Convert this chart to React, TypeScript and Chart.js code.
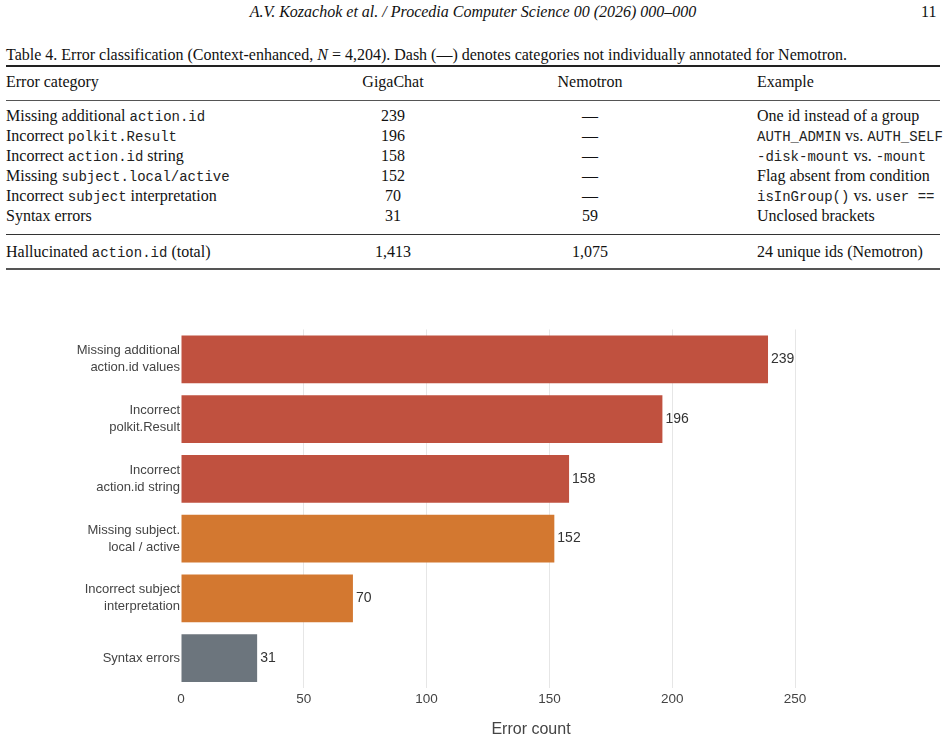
import React, { useEffect, useRef } from "react";
import { Chart, registerables } from "chart.js";

Chart.register(...registerables);

// ---------- chart data ----------
const categories: string[][] = [
  ["Missing additional", "action.id values"],
  ["Incorrect", "polkit.Result"],
  ["Incorrect", "action.id string"],
  ["Missing subject.", "local / active"],
  ["Incorrect subject", "interpretation"],
  ["Syntax errors"],
];
const errorCounts: number[] = [239, 196, 158, 152, 70, 31];
const barColors: string[] = ["#C0513F", "#C0513F", "#C0513F", "#D37830", "#D37830", "#6C757D"];
const xTickStep = 50;
const xMax = 285;
const xTitle = "Error count";

// ---------- table data ----------
type Cell = { t: string; mono?: boolean }[];
const tableCategory: Cell[] = [
  [{ t: "Missing additional " }, { t: "action.id", mono: true }],
  [{ t: "Incorrect " }, { t: "polkit.Result", mono: true }],
  [{ t: "Incorrect " }, { t: "action.id", mono: true }, { t: " string" }],
  [{ t: "Missing " }, { t: "subject.local/active", mono: true }],
  [{ t: "Incorrect " }, { t: "subject", mono: true }, { t: " interpretation" }],
  [{ t: "Syntax errors" }],
];
const tableGiga: string[] = ["239", "196", "158", "152", "70", "31"];
const tableNemo: string[] = ["—", "—", "—", "—", "—", "59"];
const tableExample: Cell[] = [
  [{ t: "One id instead of a group" }],
  [{ t: "AUTH_ADMIN", mono: true }, { t: " vs. " }, { t: "AUTH_SELF", mono: true }],
  [{ t: "-disk-mount", mono: true }, { t: " vs. " }, { t: "-mount", mono: true }],
  [{ t: "Flag absent from condition" }],
  [{ t: "isInGroup()", mono: true }, { t: " vs. " }, { t: "user ==", mono: true }],
  [{ t: "Unclosed brackets" }],
];
const totalCategory: Cell = [{ t: "Hallucinated " }, { t: "action.id", mono: true }, { t: " (total)" }];
const totalGiga = "1,413";
const totalNemo = "1,075";
const totalExample = "24 unique ids (Nemotron)";

const SERIF = "'Liberation Serif', 'Times New Roman', serif";
const MONO = "'Liberation Mono', 'DejaVu Sans Mono', monospace";
const SANS = "'Liberation Sans', Arial, Helvetica, sans-serif";

function renderCell(c: Cell) {
  return c.map((p, i) =>
    p.mono ? (
      <span key={i} style={{ fontFamily: MONO, fontSize: 14, color: "#222" }}>{p.t}</span>
    ) : (
      <span key={i}>{p.t}</span>
    )
  );
}

const valueLabelPlugin = {
  id: "valueLabels",
  afterDatasetsDraw(chart: any) {
    const ctx = chart.ctx;
    const meta = chart.getDatasetMeta(0);
    ctx.save();
    ctx.font = `14px ${SANS}`;
    ctx.fillStyle = "#333";
    ctx.textAlign = "left";
    ctx.textBaseline = "middle";
    meta.data.forEach((bar: any, i: number) => {
      const v = chart.data.datasets[0].data[i];
      ctx.fillText(String(v), bar.x + 3, bar.y);
    });
    ctx.restore();
  },
};

function BarChart() {
  const ref = useRef<HTMLCanvasElement | null>(null);
  useEffect(() => {
    if (!ref.current) return;
    const chart = new Chart(ref.current, {
      type: "bar",
      data: {
        labels: categories as any,
        datasets: [
          {
            data: errorCounts,
            backgroundColor: barColors,
            borderWidth: 0,
            barPercentage: 0.8,
            categoryPercentage: 1,
          },
        ],
      },
      options: {
        indexAxis: "y",
        responsive: false,
        animation: false,
        layout: { padding: { top: 9, right: 65, bottom: 0, left: 0 } },
        plugins: { legend: { display: false }, tooltip: { enabled: false } },
        scales: {
          x: {
            min: 0,
            max: xMax,
            border: { display: false },
            grid: {
              color: (c: any) => (c.tick && c.tick.value === 0 ? "rgba(0,0,0,0)" : "#e6e6e6"),
              drawTicks: false,
              lineWidth: 1,
            },
            ticks: {
              stepSize: xTickStep,
              color: "#444",
              font: { family: SANS, size: 13.5 },
              padding: 3,
              maxRotation: 0,
            },
            afterBuildTicks: (axis: any) => {
              axis.ticks = axis.ticks.filter((t: any) => t.value % xTickStep === 0);
            },
            afterFit: (axis: any) => {
              axis.height = 53;
            },
            title: {
              display: true,
              text: xTitle,
              color: "#444",
              font: { family: SANS, size: 16 },
              padding: { top: 0, bottom: 2 },
            },
          },
          y: {
            border: { display: false },
            grid: { display: false, drawTicks: false },
            ticks: {
              color: "#444",
              font: { family: SANS, size: 13, lineHeight: 1.3 },
              padding: 1,
              autoSkip: false,
            },
            afterFit: (axis: any) => {
              axis.width = 181;
            },
          },
        },
      },
      plugins: [valueLabelPlugin],
    });
    return () => chart.destroy();
  }, []);
  return (
    <canvas
      ref={ref}
      width={946}
      height={421}
      style={{ position: "absolute", left: 0, top: 320, width: 946, height: 421 }}
    />
  );
}

export default function App() {
  const rowTops = [106, 126, 146, 166, 186, 206];
  const abs = (top: number, left: number, extra: any = {}) => ({
    position: "absolute" as const,
    top,
    left,
    lineHeight: "20px",
    whiteSpace: "nowrap" as const,
    ...extra,
  });
  const center = (top: number, cx: number) => abs(top, cx - 100, { width: 200, textAlign: "center" });
  const rule = (top: number, h: number, color = "#222") => (
    <div style={{ position: "absolute", left: 6, width: 934, top, height: h, background: color }} />
  );
  return (
    <div
      style={{
        position: "absolute",
        left: 0,
        top: 0,
        width: 946,
        height: 741,
        background: "#fff",
        fontFamily: SERIF,
        fontSize: 16,
        color: "#111",
        overflow: "hidden",
      }}
    >
      <div style={abs(2, 0, { width: 946, textAlign: "center", fontStyle: "italic" })}>
        A.V. Kozachok et al. / Procedia Computer Science 00 (2026) 000–000
      </div>
      <div style={abs(2, 921)}>11</div>

      <div style={abs(45, 6)}>
        Table 4. Error classification (Context-enhanced, <i>N</i> = 4,204). Dash (—) denotes categories not
        individually annotated for Nemotron.
      </div>
      {rule(65, 2)}
      <div style={abs(72, 6)}>Error category</div>
      <div style={center(72, 393)}>GigaChat</div>
      <div style={center(72, 590)}>Nemotron</div>
      <div style={abs(72, 757)}>Example</div>
      {rule(100, 1, "#555")}

      {rowTops.map((t, i) => (
        <React.Fragment key={i}>
          <div style={abs(t, 6)}>{renderCell(tableCategory[i])}</div>
          <div style={center(t, 393)}>{tableGiga[i]}</div>
          <div style={center(t, 590)}>{tableNemo[i]}</div>
          <div style={abs(t, 757)}>{renderCell(tableExample[i])}</div>
        </React.Fragment>
      ))}
      {rule(234, 1, "#333")}
      <div style={abs(242, 6)}>{renderCell(totalCategory)}</div>
      <div style={center(242, 393)}>{totalGiga}</div>
      <div style={center(242, 590)}>{totalNemo}</div>
      <div style={abs(242, 757)}>{totalExample}</div>
      {rule(268, 2, "#555")}

      <BarChart />
    </div>
  );
}
